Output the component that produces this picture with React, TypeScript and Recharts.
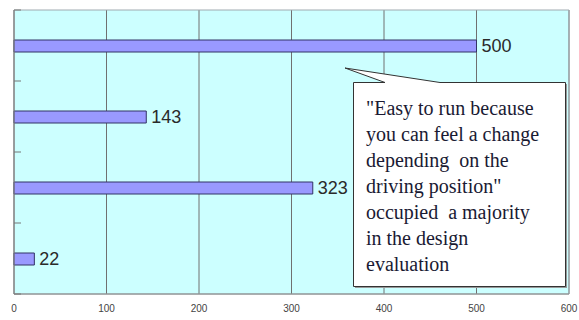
import React from 'react';
import { BarChart, Bar, XAxis, YAxis, CartesianGrid, LabelList, ReferenceArea } from 'recharts';

const categories = ['item1', 'item2', 'item3', 'item4'];
const counts = [500, 143, 323, 22];
const xTicks = [0, 100, 200, 300, 400, 500, 600];
const noteLines = [
  '"Easy to run because',
  'you can feel a change',
  'depending  on the',
  'driving position"',
  'occupied  a majority',
  'in the design',
  'evaluation',
];

const data = categories.map((name, i) => ({ name, count: counts[i] }));

const sans = "'Liberation Sans', Arial, sans-serif";
const serif = "'Liberation Serif', 'Times New Roman', serif";

// small inward tick marks on the band boundaries
function BoundaryTick(props: any) {
  const { x, y, payload, index, visibleTicksCount } = props;
  const off = payload?.offset ?? 0;
  const last = index === (visibleTicksCount ?? categories.length) - 1;
  return (
    <g>
      <line x1={x} x2={x + 7} y1={y - off} y2={y - off} stroke="#777" />
      {last && <line x1={x} x2={x + 7} y1={y + off} y2={y + off} stroke="#777" />}
    </g>
  );
}

export default function App() {
  return (
    <div style={{ position: 'absolute', left: 0, top: 0, width: 579, height: 320, background: '#fff' }}>
      <BarChart
        width={579}
        height={320}
        data={data}
        layout="vertical"
        margin={{ top: 10, right: 10, left: 0, bottom: 0 }}
      >
        <CartesianGrid horizontal={false} vertical stroke="#707070" fill="#ccffff" fillOpacity={1} />
        <ReferenceArea x1={0} x2={600} fill="none" stroke="#a0aab0" ifOverflow="visible" />
        <XAxis
          type="number"
          domain={[0, 600]}
          ticks={xTicks}
          height={26}
          axisLine={{ stroke: '#888' }}
          tickLine={false}
          tickMargin={5}
          tick={{ fontSize: 10, fill: '#444', fontFamily: sans }}
        />
        <YAxis
          type="category"
          dataKey="name"
          width={14}
          axisLine={{ stroke: '#888' }}
          tickLine={false}
          tickSize={0}
          tickMargin={0}
          tick={<BoundaryTick />}
        />
        <Bar dataKey="count" fill="#9999ff" stroke="#333366" strokeWidth={1} barSize={12} isAnimationActive={false}>
          <LabelList
            dataKey="count"
            position="right"
            offset={5}
            style={{ fontSize: 18, fill: '#2a2a2a', fontFamily: sans }}
          />
        </Bar>
      </BarChart>

      <svg width={579} height={320} style={{ position: 'absolute', left: 0, top: 0, pointerEvents: 'none' }}>
        <rect x={355} y={84} width={212} height={204} fill="#999" />
        <path
          d="M353.5,82.5 L385,82.5 L345,68 L440,82.5 L565.5,82.5 L565.5,286.5 L353.5,286.5 Z"
          fill="#fff"
          stroke="#333"
          strokeWidth={1}
        />
      </svg>
      <div
        style={{
          position: 'absolute',
          left: 366,
          top: 95,
          fontFamily: serif,
          fontSize: 20,
          lineHeight: '26px',
          color: '#1a1a33',
          whiteSpace: 'pre',
        }}
      >
        {noteLines.map((l, i) => (
          <div key={i}>{l}</div>
        ))}
      </div>
    </div>
  );
}
